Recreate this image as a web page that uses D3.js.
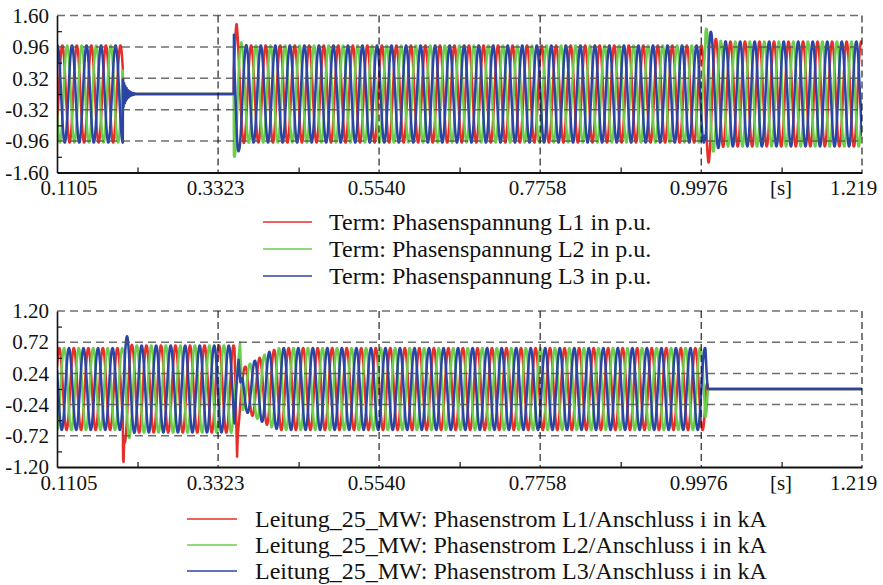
<!DOCTYPE html>
<html><head><meta charset="utf-8">
<script src="https://cdn.jsdelivr.net/npm/d3@7"></script>
<style>
body{margin:0;background:#fff}
svg{display:block}
text{font-family:"Liberation Serif","Times New Roman",serif;fill:#111}
</style>
</head><body>
<svg id="c" width="883" height="585"></svg>
<script>
// ---------------- DATA ----------------
const timeTicks = [0.1105, 0.3323, 0.5540, 0.7758, 0.9976, 1.219];
const timeTickLabels = ["0.1105", "0.3323", "0.5540", "0.7758", "0.9976", "1.219"];
const timeMinorTicks = [0.2214, 0.4432, 0.6649, 0.8867, 1.1083];
const timeUnit = "[s]";

const voltTicks = [1.60, 0.96, 0.32, -0.32, -0.96, -1.60];
const voltTickLabels = ["1.60", "0.96", "0.32", "-0.32", "-0.96", "-1.60"];
const voltMinorTicks = [1.28, 0.64, 0, -0.64, -1.28];
const currTicks = [1.20, 0.72, 0.24, -0.24, -0.72, -1.20];
const currTickLabels = ["1.20", "0.72", "0.24", "-0.24", "-0.72", "-1.20"];
const currMinorTicks = [0.96, 0.48, 0, -0.48, -0.96];

const voltLegend = ["Term: Phasenspannung L1 in p.u.", "Term: Phasenspannung L2 in p.u.", "Term: Phasenspannung L3 in p.u."];
const currLegend = ["Leitung_25_MW: Phasenstrom L1/Anschluss i in kA", "Leitung_25_MW: Phasenstrom L2/Anschluss i in kA", "Leitung_25_MW: Phasenstrom L3/Anschluss i in kA"];
const phaseNames = ["L1", "L2", "L3"];
const phaseShiftDeg = [0, 120, 240];

// recorded waveform: 50 Hz three-phase, amplitude envelope [t, peak] and phase angle [t, deg]
const gridFreqHz = 50;
const timeStart = 0.1105, timeEnd = 1.219, sampleStep = 0.0002;

const voltEnvelope = [[0.1105, 0.99], [0.2012, 0.99], [0.2013, 0.0], [0.3540, 0.0], [0.3541, 1.25], [0.3578, 1.43],
  [0.3610, 1.15], [0.3660, 1.00], [0.3800, 0.99], [1.0030, 0.99], [1.0036, 1.31], [1.0078, 1.40], [1.0112, 1.26],
  [1.0160, 1.13], [1.0250, 1.08], [1.0350, 1.07], [1.219, 1.07]];
const voltPhaseDeg = [[0.1105, 129]];
// transient windows (explicit recorded points replacing the steady wave)
const voltTransientL1 = [[[0.2014, -0.20], [0.2022, 0.15], [0.2030, -0.10], [0.2038, 0.06], [0.2046, -0.03], [0.2054, 0.0]]];
const voltTransientL2 = [[[0.2014, 0.15], [0.2022, -0.12], [0.2030, 0.08], [0.2038, -0.05], [0.2046, 0.02], [0.2054, 0.0]]];
const voltTransientL3 = [
  [[0.2014, 0.30], [0.2022, -0.26], [0.2030, 0.22], [0.2038, -0.19], [0.2046, 0.16], [0.2054, -0.14], [0.2062, 0.12],
   [0.2070, -0.10], [0.2078, 0.085], [0.2086, -0.072], [0.2094, 0.061], [0.2102, -0.052], [0.2110, 0.044],
   [0.2118, -0.037], [0.2126, 0.031], [0.2134, -0.026], [0.2142, 0.022], [0.2150, -0.019], [0.2158, 0.016],
   [0.2166, -0.013], [0.2174, 0.011], [0.2182, 0.0]],
  [[0.35412, 1.21], [0.35440, 0.66]]];

const currEnvelope = [[0.1105, 0.63], [0.2012, 0.63], [0.2040, 0.83], [0.2085, 0.80], [0.2130, 0.68], [0.2200, 0.67],
  [0.3550, 0.67], [0.3660, 0.32], [0.3850, 0.45], [0.4040, 0.58], [0.4170, 0.63], [1.0035, 0.63], [1.0068, 0.0], [1.219, 0.0]];
const currPhaseDeg = [[0.1105, 204], [0.3600, 280]];
const currTransientL1 = [
  [[0.2013, -0.80], [0.2016, -1.10], [0.2022, -1.12], [0.2026, -0.95], [0.2031, -0.76]],
  [[0.3551, 0.55], [0.3575, -0.60], [0.3585, -1.04], [0.3595, -0.70], [0.3615, -0.45], [0.3640, -0.05], [0.3659, 0.15]]];
const currTransientL2 = [
  [[0.3551, -0.05], [0.3590, 0.30], [0.3625, 0.71], [0.3640, 0.30], [0.3659, -0.32]]];
const currTransientL3 = [
  [[0.3551, -0.50], [0.3580, 0.10], [0.3605, 0.45], [0.3630, 0.10], [0.3659, 0.17]]];

const phaseColors = ["#e5302a", "#6dcd4c", "#2b45a4"];

// ---------------- BUILD ----------------
function envAt(envelope, t) {
  const i = d3.bisector(d => d[0]).right(envelope, t);
  if (i <= 0) return envelope[0][1];
  if (i >= envelope.length) return envelope[envelope.length - 1][1];
  const a = envelope[i - 1], b = envelope[i];
  return a[1] + (b[1] - a[1]) * (t - a[0]) / (b[0] - a[0]);
}
function phaseAt(table, t) {
  let p = table[0][1];
  for (const [t0, d] of table) if (t >= t0) p = d;
  return p;
}
function waveform(envelope, phaseTable, shift, transients) {
  const n = Math.round((timeEnd - timeStart) / sampleStep);
  let pts = d3.range(n + 1).map(i => {
    const t = timeStart + i * sampleStep;
    return [t, envAt(envelope, t) * Math.sin((2 * Math.PI * gridFreqHz * t) + (phaseAt(phaseTable, t) - shift) * Math.PI / 180)];
  });
  for (const w of transients) {
    const a = w[0][0], b = w[w.length - 1][0];
    pts = pts.filter(p => p[0] < a || p[0] > b).concat(w);
  }
  pts.sort((p, q) => p[0] - q[0]);
  return pts;
}

const voltSeries = [voltTransientL1, voltTransientL2, voltTransientL3].map((tr, k) => waveform(voltEnvelope, voltPhaseDeg, phaseShiftDeg[k], tr));
const currSeries = [currTransientL1, currTransientL2, currTransientL3].map((tr, k) => waveform(currEnvelope, currPhaseDeg, phaseShiftDeg[k], tr));

const svg = d3.select("#c");
const x = d3.scaleLinear().domain([timeStart, timeEnd]).range([57, 862]);
const FONT = '"Liberation Serif", "Times New Roman", serif';

const panels = [
  { y: d3.scaleLinear().domain([-1.6, 1.6]).range([172.5, 15.5]), ticks: voltTicks, labels: voltTickLabels, minor: voltMinorTicks,
    series: voltSeries, legend: voltLegend, legendRows: [222, 249, 276], legendLine: [263, 312], legendText: 329 },
  { y: d3.scaleLinear().domain([-1.2, 1.2]).range([467, 311]), ticks: currTicks, labels: currTickLabels, minor: currMinorTicks,
    series: currSeries, legend: currLegend, legendRows: [519, 545, 571], legendLine: [187, 237], legendText: 255 }
];

panels.forEach((p, pi) => {
  const g = svg.append("g");
  const [y0, y1] = p.y.range();
  const clipId = "clip" + pi;
  svg.append("clipPath").attr("id", clipId).append("rect")
    .attr("x", x.range()[0]).attr("y", y1 - 3).attr("width", x.range()[1] - x.range()[0]).attr("height", y0 - y1 + 6);

  // waveforms
  const line = d3.line().x(d => x(d[0])).y(d => p.y(d[1]));
  g.append("g").attr("clip-path", `url(#${clipId})`)
    .selectAll("path").data(p.series).join("path")
    .attr("d", line).attr("fill", "none")
    .attr("stroke", (d, k) => phaseColors[k]).attr("stroke-width", 2.5).attr("stroke-linejoin", "round");

  // horizontal dashed grid (over data)
  g.append("g").selectAll("line").data(p.ticks.slice(0, -1)).join("line")
    .attr("x1", x.range()[0]).attr("x2", x.range()[1])
    .attr("y1", d => p.y(d)).attr("y2", d => p.y(d))
    .attr("stroke", "#555").attr("stroke-width", 1.5).attr("stroke-dasharray", "8,5").attr("opacity", 0.85);
  // vertical dashed grid
  g.append("g").selectAll("line").data(timeTicks.slice(1)).join("line")
    .attr("x1", d => x(d)).attr("x2", d => x(d))
    .attr("y1", y1).attr("y2", y0)
    .attr("stroke", "#111").attr("stroke-width", 1.1).attr("stroke-dasharray", "7,4");

  // left axis
  const ya = g.append("g").attr("transform", `translate(${x.range()[0]},0)`)
    .call(d3.axisLeft(p.y).tickValues(p.ticks).tickFormat((d, i) => p.labels[i]).tickSize(0).tickPadding(8));
  ya.select(".domain").attr("stroke", "#111").attr("stroke-width", 1.6);
  ya.selectAll("text").attr("font-size", 21).attr("font-family", FONT).attr("fill", "#111");
  const yminor = g.append("g").attr("transform", `translate(${x.range()[0]},0)`)
    .call(d3.axisRight(p.y).tickValues(p.minor).tickSize(5).tickFormat(""));
  yminor.select(".domain").remove();
  yminor.selectAll("line").attr("stroke", "#111").attr("stroke-width", 1.2);

  // bottom axis
  const xa = g.append("g").attr("transform", `translate(0,${y0})`)
    .call(d3.axisBottom(x).tickValues(timeTicks).tickFormat((d, i) => timeTickLabels[i]).tickSize(0).tickPadding(8));
  xa.select(".domain").attr("stroke", "#111").attr("stroke-width", 1.8);
  xa.selectAll("text").attr("font-size", 21).attr("font-family", FONT).attr("fill", "#111")
    .attr("dy", "0.71em")
    .attr("text-anchor", (d, i) => i === 0 ? "start" : "middle")
    .attr("dx", (d, i) => i === 0 ? -17 : (i === timeTicks.length - 1 ? -9 : -3));
  const xminor = g.append("g").attr("transform", `translate(0,${y0})`)
    .call(d3.axisTop(x).tickValues(timeMinorTicks).tickSize(5).tickFormat(""));
  xminor.select(".domain").remove();
  xminor.selectAll("line").attr("stroke", "#111").attr("stroke-width", 1.2);
  g.append("text").attr("x", 781).attr("y", y0 + 8).attr("dy", "0.71em").attr("font-size", 21)
    .attr("text-anchor", "middle").text(timeUnit);

  // legend
  const lg = g.append("g");
  p.legend.forEach((label, k) => {
    lg.append("line").attr("x1", p.legendLine[0]).attr("x2", p.legendLine[1])
      .attr("y1", p.legendRows[k]).attr("y2", p.legendRows[k])
      .attr("stroke", phaseColors[k]).attr("stroke-width", 1.5);
    lg.append("text").attr("x", p.legendText).attr("y", p.legendRows[k]).attr("dy", "0.33em")
      .attr("font-size", 24).text(label);
  });
});
</script>
</body></html>
